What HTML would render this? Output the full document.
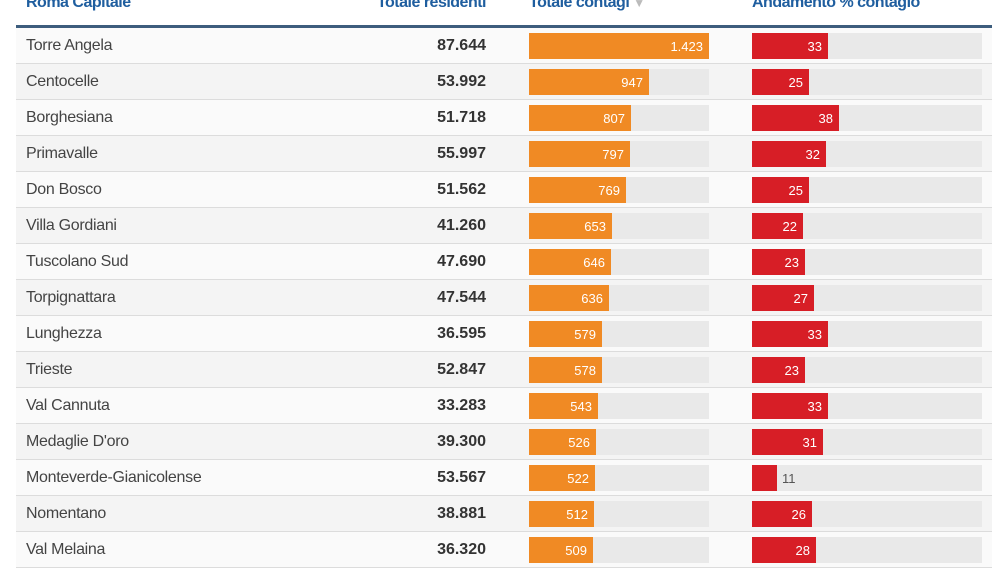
<!DOCTYPE html>
<html><head><meta charset="utf-8"><style>
*{margin:0;padding:0;box-sizing:border-box}
body{width:1002px;height:566px;background:#fff;font-family:"Liberation Sans",sans-serif;position:relative;overflow:hidden}
.h{position:absolute;top:-6px;font-size:16px;font-weight:bold;color:#1f5e9f;white-space:nowrap;letter-spacing:-0.5px}
.line{position:absolute;left:16px;width:976px;top:25px;height:3px;background:#3d5d7d}
.row{position:absolute;left:16px;width:976px;height:36px;border-bottom:1px solid #dcdcdc}
.nm{position:absolute;left:10px;top:9px;font-size:16px;color:#444;letter-spacing:-0.3px}
.rs{position:absolute;right:506px;top:9px;font-size:16px;font-weight:bold;color:#333}
.tr{position:absolute;top:5px;height:26px;background:#e9e9e9}
.b{position:absolute;top:0;left:0;height:26px;color:#fff;font-size:13px;text-align:right;padding-right:6px;line-height:27px}
.o{background:#f08a24}.r{background:#d71e26}
</style></head><body>
<div class="h" style="left:26px">Roma Capitale</div>
<div class="h" style="left:340px;width:146px;text-align:right">Totale residenti</div>
<div class="h" style="left:529px">Totale contagi <span style="color:#bbb;font-size:12px">▼</span></div>
<div class="h" style="left:752px">Andamento % contagio</div>
<div class="line"></div>
<div id="t"></div>
<script>
var d=[["Torre Angela","87.644",1423,"1.423",33],["Centocelle","53.992",947,"947",25],["Borghesiana","51.718",807,"807",38],["Primavalle","55.997",797,"797",32],["Don Bosco","51.562",769,"769",25],["Villa Gordiani","41.260",653,"653",22],["Tuscolano Sud","47.690",646,"646",23],["Torpignattara","47.544",636,"636",27],["Lunghezza","36.595",579,"579",33],["Trieste","52.847",578,"578",23],["Val Cannuta","33.283",543,"543",33],["Medaglie D'oro","39.300",526,"526",31],["Monteverde-Gianicolense","53.567",522,"522",11],["Nomentano","38.881",512,"512",26],["Val Melaina","36.320",509,"509",28]];
var h="";
d.forEach(function(r,i){
var ow=Math.round(r[2]*180/1423),rw=Math.round(r[4]*2.3);
var red=r[4]<15?'<div class="b r" style="width:'+rw+'px"></div><span style="position:absolute;left:'+(rw+5)+'px;top:0;line-height:27px;font-size:13px;color:#555">'+r[4]+'</span>':'<div class="b r" style="width:'+rw+'px">'+r[4]+'</div>';
h+='<div class="row" style="top:'+(28+36*i)+'px;background:'+(i%2?'#f4f4f4':'#fafafa')+'"><div class="nm">'+r[0]+'</div><div class="rs">'+r[1]+'</div><div class="tr" style="left:513px;width:180px"><div class="b o" style="width:'+ow+'px">'+r[3]+'</div></div><div class="tr" style="left:736px;width:230px">'+red+'</div></div>';
});
document.getElementById("t").innerHTML=h;
</script>
</body></html>
